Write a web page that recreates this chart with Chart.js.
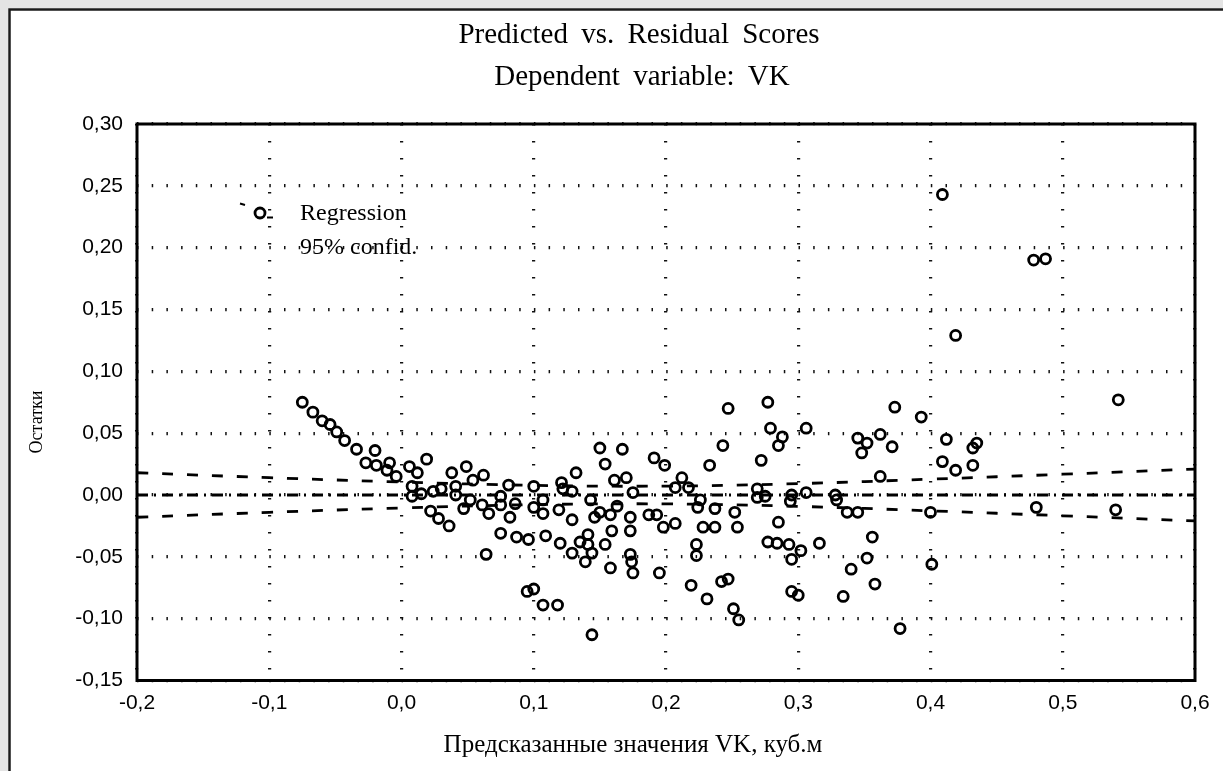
<!DOCTYPE html>
<html>
<head>
<meta charset="utf-8">
<script src="https://cdn.jsdelivr.net/npm/chart.js@4.4.1/dist/chart.umd.min.js"></script>
<style>
  html, body { margin: 0; padding: 0; background: #fff; }
  #c { display: block; }
</style>
</head>
<body>
<canvas id="c" width="1223" height="771"></canvas>
<script>
// ---- data ----
const predicted = [
  -0.075,-0.067,-0.060,-0.054,-0.049,-0.043,-0.034,-0.020,-0.027,-0.019,
  -0.009,-0.011,-0.004,0.006,0.012,0.019,0.008,0.008,0.015,0.024,
  0.030,0.038,0.041,0.049,0.054,0.062,0.041,0.047,0.052,0.061,
  0.066,0.022,0.028,0.036,0.075,0.075,0.081,0.082,0.075,0.086,
  0.087,0.096,0.100,0.100,0.064,0.247,0.277,0.279,0.243,0.272,
  0.233,0.150,0.167,0.154,0.191,0.199,0.132,0.121,0.122,0.129,
  0.161,0.170,0.175,0.143,0.163,0.150,0.158,0.146,0.173,0.187,
  0.193,0.207,0.212,0.217,0.226,0.224,0.237,0.252,0.269,0.269,
  0.275,0.285,0.198,0.207,0.228,0.237,0.254,0.223,0.223,0.277,
  0.107,0.107,0.119,0.129,0.109,0.120,0.129,0.135,0.141,0.141,
  0.139,0.144,0.154,0.159,0.173,0.173,0.174,0.175,0.158,0.195,
  0.219,0.231,0.242,0.247,0.251,0.255,0.095,0.100,0.107,0.118,
  0.144,0.288,0.285,0.306,0.373,0.393,0.345,0.352,0.348,0.362,
  0.371,0.412,0.435,0.432,0.409,0.419,0.432,0.362,0.295,0.294,
  0.306,0.328,0.329,0.337,0.345,0.400,0.284,0.293,0.302,0.295,
  0.316,0.356,0.352,0.340,0.358,0.334,0.295,0.300,0.401,0.377,
  0.478,0.487,0.542,0.480,0.540,0.409,0.419
];
const residuals = [
  0.075,0.067,0.060,0.057,0.051,0.044,0.037,0.036,0.026,0.024,
  0.026,0.020,0.015,0.023,0.018,0.029,0.007,-0.001,0.001,0.003,
  0.005,0.018,0.007,0.023,0.012,0.016,0.000,-0.011,-0.004,-0.008,
  -0.015,-0.013,-0.019,-0.025,-0.001,-0.008,0.008,-0.018,-0.031,-0.007,
  -0.034,-0.036,0.007,-0.010,-0.048,0.070,0.075,0.054,0.040,0.028,
  0.024,0.038,0.037,0.025,0.030,0.024,0.018,0.010,0.005,0.003,
  0.012,0.014,0.002,-0.004,-0.009,-0.014,-0.016,-0.018,-0.018,-0.016,
  -0.016,0.006,0.014,0.006,-0.004,-0.010,-0.011,-0.014,0.005,-0.002,
  -0.001,-0.022,-0.026,-0.023,-0.026,-0.026,-0.026,-0.040,-0.049,-0.038,
  -0.004,-0.015,-0.012,-0.020,-0.033,-0.039,-0.047,-0.038,-0.032,-0.040,
  -0.054,-0.047,-0.040,-0.029,-0.029,-0.048,-0.054,-0.063,-0.059,-0.063,
  -0.073,-0.084,-0.070,-0.068,-0.092,-0.101,-0.078,-0.076,-0.089,-0.089,
  -0.113,0.047,0.040,0.054,0.071,0.063,0.046,0.042,0.034,0.049,
  0.039,0.045,0.042,0.038,0.027,0.020,0.024,0.015,0.000,-0.005,
  0.002,0.000,-0.004,-0.014,-0.014,-0.014,-0.039,-0.040,-0.045,-0.052,
  -0.039,-0.034,-0.051,-0.060,-0.072,-0.082,-0.078,-0.081,-0.056,-0.108,
  0.190,0.191,0.077,-0.010,-0.012,0.243,0.129
];
const bandX     = [-0.2, -0.1, 0.0, 0.1, 0.2, 0.3, 0.4, 0.5, 0.6];
const bandUpper = [0.0180, 0.0140, 0.0105, 0.0078, 0.0072, 0.0092, 0.0128, 0.0168, 0.0210];
const bandLower = [-0.0180, -0.0140, -0.0105, -0.0078, -0.0072, -0.0092, -0.0128, -0.0168, -0.0210];
const regLine   = [0, 0, 0, 0, 0, 0, 0, 0, 0];
const xTickLabels = ["-0,2","-0,1","0,0","0,1","0,2","0,3","0,4","0,5","0,6"];
const yTickLabels = ["-0,15","-0,10","-0,05","0,00","0,05","0,10","0,15","0,20","0,25","0,30"];
const titleLines = ["Predicted vs. Residual Scores", "Dependent variable: VK"];
const xTitle = "Предсказанные значения VK, куб.м";
const yTitle = "Остатки";
const legendItems = ["Regression", "95% confid."];

// ---- build ----
const pts = predicted.map((x, i) => ({ x: x, y: residuals[i] }));
const line = arr => bandX.map((x, i) => ({ x: x, y: arr[i] }));

const SERIF = '"Liberation Serif", "Times New Roman", serif';
const SANS = '"Liberation Sans", Arial, sans-serif';

const decor = {
  id: 'decor',
  beforeDraw(chart) {
    const ctx = chart.ctx;
    ctx.save();
    ctx.fillStyle = '#fff';
    ctx.fillRect(0, 0, chart.width, chart.height);
    ctx.fillStyle = '#e4e4e4';
    ctx.fillRect(0, 0, chart.width, 8);
    ctx.fillRect(0, 0, 8, chart.height);
    ctx.strokeStyle = '#1a1a1a';
    ctx.lineWidth = 2.5;
    ctx.beginPath();
    ctx.moveTo(9.5, chart.height);
    ctx.lineTo(9.5, 9.5);
    ctx.lineTo(chart.width, 9.5);
    ctx.stroke();
    ctx.restore();
  },
  afterDraw(chart) {
    const ctx = chart.ctx;
    const a = chart.chartArea;
    ctx.save();
    // plot frame
    ctx.strokeStyle = '#000';
    ctx.lineWidth = 3;
    ctx.strokeRect(a.left, a.top, a.right - a.left, a.bottom - a.top);
    // titles
    ctx.fillStyle = '#000';
    ctx.textAlign = 'center';
    ctx.textBaseline = 'middle';
    try { ctx.wordSpacing = '6px'; } catch (e) {}
    ctx.font = '29px ' + SERIF;
    ctx.fillText(titleLines[0], 639, 35);
    ctx.fillText(titleLines[1], 642, 77);
    try { ctx.wordSpacing = '0px'; } catch (e) {}
    // x title
    ctx.font = '25px ' + SERIF;
    ctx.fillText(xTitle, 633, 745);
    // y title
    ctx.save();
    ctx.translate(37, 422);
    ctx.rotate(-Math.PI / 2);
    ctx.font = '18px ' + SERIF;
    ctx.fillText(yTitle, 0, 0);
    ctx.restore();
    // legend
    ctx.textAlign = 'left';
    ctx.font = '24px ' + SERIF;
    ctx.fillText(legendItems[0], 300, 214);
    ctx.fillText(legendItems[1], 300, 248);
    ctx.lineWidth = 2.8;
    ctx.beginPath();
    ctx.arc(260, 213, 5, 0, Math.PI * 2);
    ctx.stroke();
    ctx.lineWidth = 2;
    ctx.beginPath();
    ctx.moveTo(267, 217.5);
    ctx.lineTo(273, 217.5);
    ctx.moveTo(240, 203.5);
    ctx.lineTo(245, 205);
    ctx.stroke();
    ctx.restore();
  }
};

new Chart(document.getElementById('c'), {
  type: 'scatter',
  data: {
    datasets: [
      {
        label: 'Regression',
        type: 'line',
        data: line(regLine),
        borderColor: '#000',
        borderWidth: 2.8,
        borderDash: [11, 6, 2, 6],
        pointRadius: 0,
        fill: false,
        order: 2
      },
      {
        label: '95% confid. upper',
        type: 'line',
        data: line(bandUpper),
        borderColor: '#000',
        borderWidth: 2.8,
        borderDash: [11, 14],
        pointRadius: 0,
        tension: 0.4,
        fill: false,
        order: 2
      },
      {
        label: '95% confid. lower',
        type: 'line',
        data: line(bandLower),
        borderColor: '#000',
        borderWidth: 2.8,
        borderDash: [11, 14],
        pointRadius: 0,
        tension: 0.4,
        fill: false,
        order: 2
      },
      {
        label: 'Residuals',
        data: pts,
        pointStyle: 'circle',
        pointRadius: 5,
        pointBorderWidth: 2.8,
        borderWidth: 2.8,
        borderColor: '#000',
        backgroundColor: 'rgba(0,0,0,0)',
        order: 1
      }
    ]
  },
  options: {
    responsive: false,
    animation: false,
    devicePixelRatio: 1,
    layout: { padding: { top: 124, right: 28, left: 0, bottom: 0 } },
    plugins: { legend: { display: false }, tooltip: { enabled: false }, title: { display: false } },
    scales: {
      x: {
        type: 'linear',
        min: -0.2, max: 0.6,
        ticks: {
          stepSize: 0.1,
          color: '#000',
          font: { family: SANS, size: 21 },
          padding: 10,
          maxRotation: 0,
          autoSkip: false,
          callback: (v, i) => xTickLabels[i]
        },
        grid: { color: '#111', lineWidth: 3.2, drawTicks: false },
        border: { display: false, dash: [1.5, 15.5] },
        afterFit: s => { s.height = 90.5; }
      },
      y: {
        type: 'linear',
        min: -0.15, max: 0.30,
        ticks: {
          stepSize: 0.05,
          color: '#000',
          font: { family: SANS, size: 21 },
          padding: 14,
          autoSkip: false,
          callback: (v, i) => yTickLabels[i]
        },
        grid: { color: '#111', lineWidth: 3.2, drawTicks: false },
        border: { display: false, dash: [1.5, 13.2] },
        afterFit: s => { s.width = 137; }
      }
    }
  },
  plugins: [decor]
});
</script>
</body>
</html>
